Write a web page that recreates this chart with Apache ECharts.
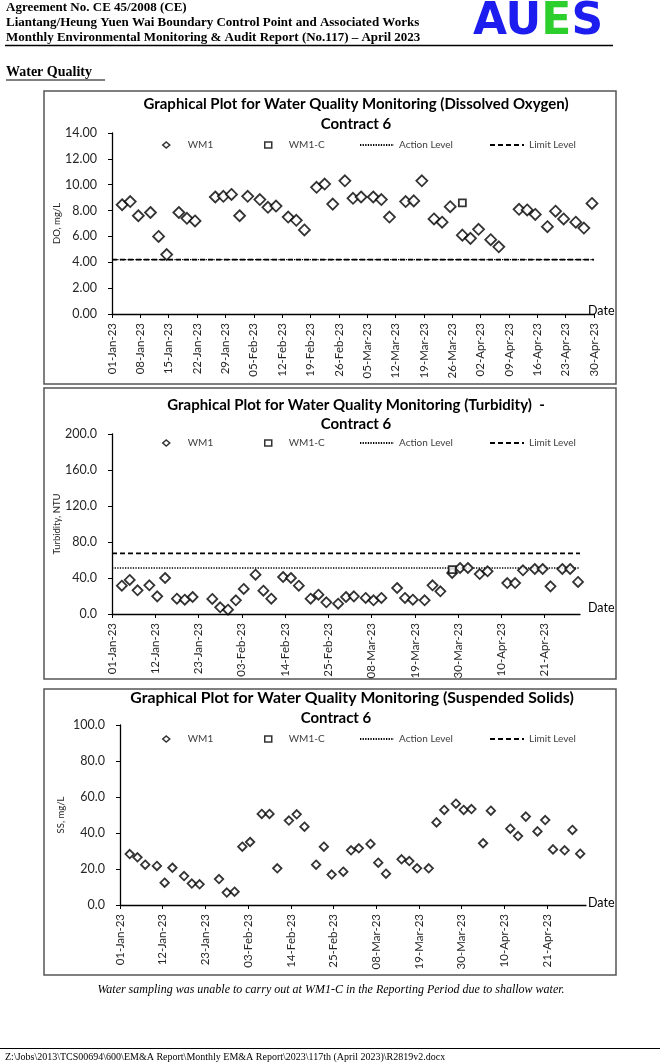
<!DOCTYPE html>
<html><head><meta charset="utf-8">
<script src="https://cdn.jsdelivr.net/npm/echarts@6/dist/echarts.min.js"></script>
<style>html,body{margin:0;padding:0;background:#fff}#c{width:660px;height:1064px}</style>
</head><body><div id="c"></div>
<script>
// ---------- DATA ----------
const sampleDates = ['2023-01-03','2023-01-05','2023-01-07','2023-01-10','2023-01-12','2023-01-14','2023-01-17','2023-01-19','2023-01-21','2023-01-26','2023-01-28','2023-01-30',
  '2023-02-01','2023-02-03','2023-02-06','2023-02-08','2023-02-10','2023-02-13','2023-02-15','2023-02-17','2023-02-20','2023-02-22','2023-02-24','2023-02-27',
  '2023-03-01','2023-03-03','2023-03-06','2023-03-08','2023-03-10','2023-03-14','2023-03-16','2023-03-18','2023-03-21','2023-03-23','2023-03-25','2023-03-28','2023-03-30',
  '2023-04-01','2023-04-04','2023-04-06','2023-04-11','2023-04-13','2023-04-15','2023-04-18','2023-04-20','2023-04-22','2023-04-25','2023-04-27','2023-04-29'];
const doWM1 = [8.45,8.7,7.6,7.85,6.0,4.6,7.85,7.4,7.2,9.05,9.1,9.25,
  7.6,9.1,8.85,8.25,8.35,7.5,7.25,6.5,9.8,10.05,8.5,10.3,
  8.95,9.05,9.05,8.85,7.5,8.7,8.75,10.3,7.35,7.1,8.3,6.1,5.85,
  6.55,5.75,5.2,8.1,8.05,7.7,6.75,7.95,7.35,7.1,6.65,8.55];
const turbWM1 = [31.5,37.8,26.3,31.9,19.6,40.0,17.0,15.9,18.9,16.7,7.4,4.8,
  15.2,27.8,43.7,25.9,17.0,41.1,40.0,31.5,17.0,21.5,13.0,11.5,
  18.9,19.6,17.8,15.2,17.8,28.9,17.8,15.9,15.2,31.9,25.2,45.6,51.1,
  51.1,44.4,47.4,34.4,34.4,48.5,50.0,50.0,30.7,50.0,50.0,35.6];
const ssWM1 = [28.3,26.5,22.4,21.7,12.4,20.7,16.1,11.9,11.5,14.4,6.9,7.4,
  32.4,35.0,50.6,50.6,20.4,46.9,50.4,43.5,22.4,32.4,16.9,18.5,
  30.4,31.5,33.9,23.5,17.4,25.4,24.4,20.4,20.4,45.9,52.8,56.3,52.8,
  53.3,34.3,52.4,42.4,38.3,49.1,40.9,47.2,30.9,30.4,41.7,28.5];
const wm1cDates = ['2023-03-28'];
const doWM1C = [8.6];
const turbWM1C = [49.3];
const ssWM1C = [];
const doAction = 4.2, doLimit = 4.2;
const turbAction = 51.1, turbLimit = 67.4;
const levelDates = ['2023-01-01','2023-04-30'];
const doTickLabels = ['01-Jan-23','08-Jan-23','15-Jan-23','22-Jan-23','29-Jan-23','05-Feb-23','12-Feb-23','19-Feb-23','26-Feb-23','05-Mar-23','12-Mar-23','19-Mar-23','26-Mar-23','02-Apr-23','09-Apr-23','16-Apr-23','23-Apr-23','30-Apr-23'];
const turbTickLabels = ['01-Jan-23','12-Jan-23','23-Jan-23','03-Feb-23','14-Feb-23','25-Feb-23','08-Mar-23','19-Mar-23','30-Mar-23','10-Apr-23','21-Apr-23'];
const ssTickLabels = turbTickLabels;
const legendNames = ['WM1','WM1-C','Action Level','Limit Level'];

// ---------- HELPERS ----------
const DAY = 86400000, T0 = Date.UTC(2023,0,1);
const MON = ['Jan','Feb','Mar','Apr','May','Jun','Jul','Aug','Sep','Oct','Nov','Dec'];
const dayOf = s => { const [y,m,d] = s.split('-').map(Number); return (Date.UTC(y,m-1,d)-T0)/DAY; };
const labelDay = l => { const [d,m,y] = l.split('-'); return (Date.UTC(2000+Number(y), MON.indexOf(m), Number(d))-T0)/DAY; };
const fmt = v => { const dt = new Date(T0 + Math.round(v)*DAY); return String(dt.getUTCDate()).padStart(2,'0')+'-'+MON[dt.getUTCMonth()]+'-'+String(dt.getUTCFullYear()).slice(2); };
const slot = s => dayOf(s) + 0.5;   // Excel date axis: points sit between tick marks
const pts = (dates, vals) => vals.map((v,i) => [slot(dates[i]), v]);
const levelPts = v => levelDates.map(d => [dayOf(d), v]);

const FONT = 'Lato, "Open Sans", sans-serif';
const SERIF = '"Liberation Serif", "DejaVu Serif", serif';
const LBL = '#262626';

const grids = [
  {left:112, top:133, width:482, height:181},
  {left:112, top:434, width:468, height:180},
  {left:120, top:725, width:466, height:180}
];
const xMax = [119, 119, 120];
const tickSets = [doTickLabels, turbTickLabels, ssTickLabels].map(a => a.map(labelDay));
const yCfg = [
  {max:14, interval:2, dec:2, name:'DO, mg/L', gap:50},
  {max:200, interval:40, dec:1, name:'Turbidity, NTU', gap:50},
  {max:100, interval:20, dec:1, name:'SS, mg/L', gap:54}
];
const dateName = [
  {gap:-6, lh:7},
  {gap:8, lh:13},
  {gap:2, lh:5}
];

const xAxes = grids.map((g,i) => ({
  type:'value', gridIndex:i, min:0, max:xMax[i],
  axisLine:{show:true, onZero:false, lineStyle:{color:'#000', width:1.3}},
  axisTick:{show:true, customValues:tickSets[i], length:4, lineStyle:{color:'#000', width:1}},
  axisLabel:{customValues:tickSets[i], rotate:90, margin:9, fontSize:11.5, color:LBL, fontFamily:FONT, formatter:fmt},
  splitLine:{show:false},
  name:'Date', nameLocation:'end', nameGap:dateName[i].gap, nameMoveOverlap:false,
  nameTextStyle:{fontSize:12.5, color:'#000', fontFamily:FONT, align:'left', verticalAlign:'bottom', lineHeight:dateName[i].lh}
}));
const yAxes = grids.map((g,i) => ({
  type:'value', gridIndex:i, min:0, max:yCfg[i].max, interval:yCfg[i].interval,
  axisLine:{show:true, lineStyle:{color:'#000', width:1.3}},
  axisTick:{show:true, length:4, lineStyle:{color:'#000', width:1}},
  axisLabel:{margin:15, fontSize:12.5, color:LBL, fontFamily:FONT, formatter:v => v.toFixed(yCfg[i].dec)},
  splitLine:{show:false},
  name:yCfg[i].name, nameLocation:'middle', nameGap:yCfg[i].gap, nameMoveOverlap:false,
  nameTextStyle:{fontSize:9.5, color:LBL, fontFamily:FONT}
}));

const diamondSize = [11, 10, 8.5];
const series = [];
const wm1Data = [doWM1, turbWM1, ssWM1];
const wm1cData = [doWM1C, turbWM1C, ssWM1C];
const levels = [[doAction, doLimit], [turbAction, turbLimit], null];
for (let i = 0; i < 3; i++) {
  if (levels[i]) {
    series.push({name:'Action Level', type:'line', xAxisIndex:i, yAxisIndex:i, data:levelPts(levels[i][0]),
      symbol:'none', silent:true, z:1, itemStyle:{color:'#000'}, lineStyle:{color:'#000', width:1.3, type:[1.3,1.3]}});
    series.push({name:'Limit Level', type:'line', xAxisIndex:i, yAxisIndex:i, data:levelPts(levels[i][1]),
      symbol:'none', silent:true, z:1, itemStyle:{color:'#000'}, lineStyle:{color:'#000', width:1.8, type:[5,3]}});
  }
  series.push({name:'WM1', type:'scatter', xAxisIndex:i, yAxisIndex:i, data:pts(sampleDates, wm1Data[i]),
    symbol:'diamond', symbolSize:diamondSize[i], z:3,
    itemStyle:{color:'#fff', borderColor:'#000', borderWidth:1.8}});
  series.push({name:'WM1-C', type:'scatter', xAxisIndex:i, yAxisIndex:i, data:pts(wm1cDates, wm1cData[i]),
    symbol:'rect', symbolSize:7, z:4,
    itemStyle:{color:'#fff', borderColor:'#000', borderWidth:1.8}});
}

// legend item placement: [left, iconWidth, textPadLeft]
const legendPlace = [[162, 7, 13], [264, 7, 12], [359, 34, 0], [489, 34, 0]];
const legendTops = [140, 438, 734];
const legends = [];
legendTops.forEach(t => legendNames.forEach((n,k) => {
  const p = legendPlace[k];
  legends.push({
    data:[n], left:p[0], top:t, orient:'horizontal', itemWidth:p[1], itemHeight:p[1] === 7 ? 6 : 7, itemGap:0,
    selectedMode:false, padding:0, symbolKeepAspect:true,
    itemStyle: p[1] === 7 ? {borderWidth:1.5} : {opacity:0},
    textStyle:{fontSize:10, color:'#404040', fontFamily:FONT, padding:[0,0,0,p[2]]}
  });
}));

// ---------- PAGE GRAPHICS ----------
const boxes = [[44,91,572,293],[44,388,572,291],[44,689,572,286]];
const titles = [
  ['Graphical Plot for Water Quality Monitoring (Dissolved Oxygen)', 356, 104, 15, 'Contract 6', 356, 124],
  ['Graphical Plot for Water Quality Monitoring (Turbidity)  -', 356, 405, 15, 'Contract 6', 356, 424],
  ['Graphical Plot for Water Quality Monitoring (Suspended Solids)', 352, 698, 15.8, 'Contract 6', 336, 718]
];
const graphics = [];
boxes.forEach(b => graphics.push({type:'rect', shape:{x:b[0], y:b[1], width:b[2], height:b[3]}, silent:true,
  style:{fill:'none', stroke:'#555', lineWidth:1.5}}));
titles.forEach(t => {
  graphics.push({type:'text', x:t[1], y:t[2], silent:true, style:{text:t[0], fill:'#000', font:'bold '+t[3]+'px '+FONT, textAlign:'center', textVerticalAlign:'middle'}});
  graphics.push({type:'text', x:t[5], y:t[6], silent:true, style:{text:t[4], fill:'#000', font:'bold 15px '+FONT, textAlign:'center', textVerticalAlign:'middle'}});
});
const headerLines = ['Agreement No. CE 45/2008 (CE)', 'Liantang/Heung Yuen Wai Boundary Control Point and Associated Works', 'Monthly Environmental Monitoring & Audit Report (No.117) \u2013 April 2023'];
headerLines.forEach((h,i) => graphics.push({type:'text', x:6, y:8+i*15, silent:true,
  style:{text:h, fill:'#000', font:'bold 13px '+SERIF, textAlign:'left', textVerticalAlign:'middle'}}));
graphics.push({type:'line', shape:{x1:5, y1:45.5, x2:613, y2:45.5}, silent:true, style:{stroke:'#000', lineWidth:1.5}});
graphics.push({type:'text', x:538, y:23, silent:true, style:{
  text:'{a|AU}{b|E}{a|S}', textAlign:'center', textVerticalAlign:'middle',
  rich:{a:{fill:'#1d1df0', font:'bold 44px "DejaVu Sans", sans-serif'}, b:{fill:'#2ccf2c', font:'bold 44px "DejaVu Sans", sans-serif'}}}});
graphics.push({type:'text', x:6, y:72, silent:true, style:{text:'Water Quality', fill:'#000', font:'bold 14px '+SERIF, textAlign:'left', textVerticalAlign:'middle'}});
graphics.push({type:'line', shape:{x1:6, y1:80, x2:105, y2:80}, silent:true, style:{stroke:'#000', lineWidth:1}});
graphics.push({type:'text', x:331, y:990, silent:true, style:{text:'Water sampling was unable to carry out at WM1-C in the Reporting Period due to shallow water.', fill:'#000', font:'italic 12px '+SERIF, textAlign:'center', textVerticalAlign:'middle'}});
graphics.push({type:'line', shape:{x1:0, y1:1048.5, x2:660, y2:1048.5}, silent:true, style:{stroke:'#000', lineWidth:1}});
graphics.push({type:'text', x:5, y:1057, silent:true, style:{text:'Z:\\Jobs\\2013\\TCS00694\\600\\EM&A Report\\Monthly EM&A Report\\2023\\117th (April 2023)\\R2819v2.docx', fill:'#000', font:'10px '+SERIF, textAlign:'left', textVerticalAlign:'middle'}});

const chart = echarts.init(document.getElementById('c'), null, {renderer:'canvas'});
chart.setOption({
  animation:false,
  backgroundColor:'#fff',
  grid:grids.map(g => Object.assign({containLabel:false}, g)),
  xAxis:xAxes, yAxis:yAxes,
  legend:legends,
  series:series,
  graphic:graphics
});
</script></body></html>
